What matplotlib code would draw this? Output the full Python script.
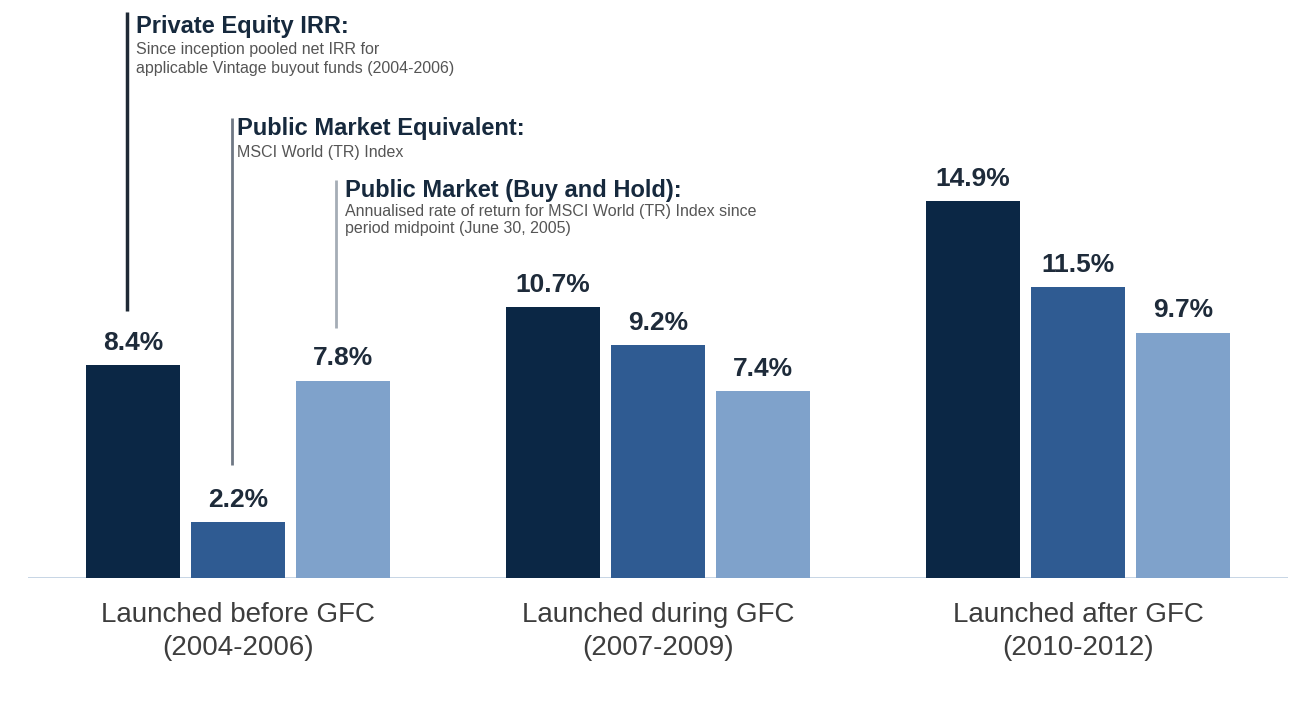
import matplotlib
matplotlib.use("Agg")
import matplotlib.pyplot as plt
import numpy as np

# ---- data ----
categories = ["Launched before GFC", "Launched during GFC", "Launched after GFC"]
periods = ["(2004-2006)", "(2007-2009)", "(2010-2012)"]
series_names = ["Private Equity IRR", "Public Market Equivalent", "Public Market (Buy and Hold)"]
private_equity = [8.4, 10.7, 14.9]
pme = [2.2, 9.2, 11.5]
buy_hold = [7.8, 7.4, 9.7]

colors = ["#0b2745", "#2f5b92", "#7fa2cb"]

plt.rcParams['font.family'] = ['Liberation Sans', 'DejaVu Sans']

W, H = 1305, 715
fig = plt.figure(figsize=(W / 100, H / 100), dpi=100)
fig.patch.set_facecolor("white")

BASE_PX = 578.0
PX_PER_UNIT = 25.3
ax_left, ax_right = 28.0, 1288.0
ax = fig.add_axes([ax_left / W, (H - BASE_PX) / H, (ax_right - ax_left) / W, BASE_PX / H])
ymax = BASE_PX / PX_PER_UNIT
ax.set_ylim(0, ymax)
ax.set_xlim(-2, 10)
ax.axis("off")

def py(p):
    """pixel row -> data y"""
    return (BASE_PX - p) / PX_PER_UNIT

group_pos = np.array([0.0, 4.0, 8.0])
offsets = [-1.0, 0.0, 1.0]
width = 0.9
all_series = [private_equity, pme, buy_hold]

for s, (vals, off) in enumerate(zip(all_series, offsets)):
    xs = group_pos + off
    ax.bar(xs, vals, width=width, color=colors[s], zorder=2)
    for x, v in zip(xs, vals):
        ax.text(x, v + 0.6, f"{v:.1f}%", ha="center", va="baseline",
                fontsize=19, fontweight="bold", color="#1e2b3a")

# baseline
ax.axhline(0, color="#c2d2e2", lw=2, zorder=1)

# category labels
for gx, c, p in zip(group_pos, categories, periods):
    ax.text(gx, py(622), c, ha="center", va="baseline", fontsize=20, color="#3d3d3d", clip_on=False)
    ax.text(gx, py(655), p, ha="center", va="baseline", fontsize=20, color="#3d3d3d", clip_on=False)

# annotation lines and texts (first group)
x_pe = group_pos[0] + offsets[0] - 0.06
x_pme = group_pos[0] + offsets[1] - 0.06
x_bh = group_pos[0] + offsets[2] - 0.07

ax.plot([x_pe, x_pe], [py(12), py(311)], color="#1f2a36", lw=2.5, clip_on=False, solid_capstyle="butt")
ax.plot([x_pme, x_pme], [py(118), py(465)], color="#6f7884", lw=2, clip_on=False, solid_capstyle="butt")
ax.plot([x_bh, x_bh], [py(180), py(328)], color="#a5adb6", lw=2, clip_on=False, solid_capstyle="butt")

def dx(px):
    return (px - 237.0) / 105.0

title_kw = dict(fontsize=17, fontweight="bold", color="#16293d", va="center", ha="left", clip_on=False)
sub_kw = dict(fontsize=11.5, color="#555555", va="center", ha="left", clip_on=False)

ax.text(dx(135), py(27), "Private Equity IRR:", **title_kw)
ax.text(dx(135), py(50), "Since inception pooled net IRR for", **sub_kw)
ax.text(dx(135), py(68), "applicable Vintage buyout funds (2004-2006)", **sub_kw)

ax.text(dx(236), py(129), "Public Market Equivalent:", **title_kw)
ax.text(dx(236), py(153), "MSCI World (TR) Index", **sub_kw)

ax.text(dx(344), py(191), "Public Market (Buy and Hold):", **title_kw)
ax.text(dx(344), py(212), "Annualised rate of return for MSCI World (TR) Index since", **sub_kw)
ax.text(dx(344), py(229), "period midpoint (June 30, 2005)", **sub_kw)

fig.savefig("out.png", dpi=100, facecolor="white")
